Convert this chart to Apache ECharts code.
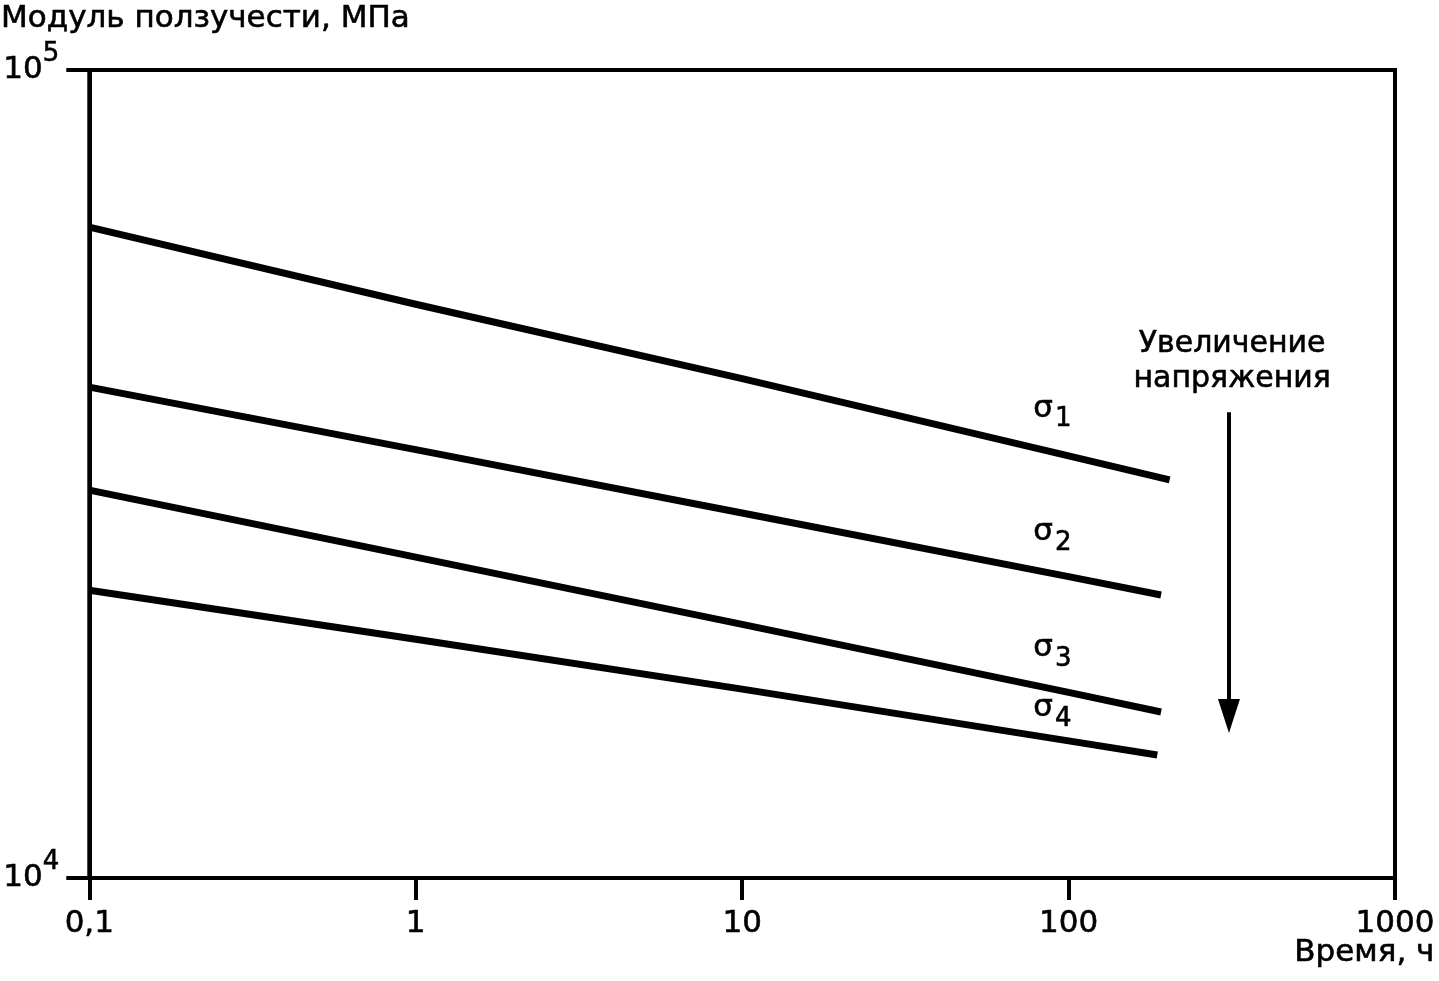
<!DOCTYPE html>
<html>
<head>
<meta charset="utf-8">
<script src="https://cdn.jsdelivr.net/npm/echarts@6/dist/echarts.min.js"></script>
<style>
html,body{margin:0;padding:0;background:#fff;}
#chart{width:1439px;height:981px;}
</style>
</head>
<body>
<div id="chart"></div>
<script>
// ---- data ----
const timeNodes = [0.1, 1, 10, 100];          // hours
const endTime = [204, 192, 192, 187];         // hours, where each curve ends
const sigma1 = [63900, 51300, 41500, 33300, 31100];   // MPa
const sigma2 = [40500, 33900, 28300, 23600, 22400];
const sigma3 = [30200, 24950, 20600, 16970, 16050];
const sigma4 = [22700, 19750, 17130, 14780, 14200];
const seriesNames = ['σ1', 'σ2', 'σ3', 'σ4'];
const seriesSubscripts = ['1', '2', '3', '4'];
const labelTime = 78;                          // where σ labels start (hours)
const labelModulus = [38100, 26800, 19260, 16230];
const arrowTime = 310;
const arrowFrom = 37700, arrowTo = 15870;
const noteText = 'Увеличение\nнапряжения';
const noteTime = 317, noteModulus = 43600;
const yTitle = 'Модуль ползучести, МПа';
const xTitle = 'Время, ч';

const FONT = 'DejaVu Sans';
const HEAVY = { textBorderColor: '#000', textBorderWidth: 0.6 };
const allSeries = [sigma1, sigma2, sigma3, sigma4];

function pairs(vals, i) {
  const xs = timeNodes.concat([endTime[i]]);
  return vals.map((v, k) => [xs[k], v]);
}

const series = allSeries.map((vals, i) => {
  const s = {
    name: seriesNames[i],
    type: 'line',
    data: pairs(vals, i),
    symbol: 'none',
    lineStyle: { color: '#000', width: 7, cap: 'butt', join: 'round' },
    silent: true,
    markPoint: {
      silent: true,
      symbol: 'circle',
      symbolSize: 0,
      data: [{ coord: [labelTime, labelModulus[i]] }],
      label: {
        show: true,
        position: 'inside',
        align: 'left',
        verticalAlign: 'middle',
        formatter: '{s|σ}{sub|' + seriesSubscripts[i] + '}',
        rich: {
          s: Object.assign({ fontFamily: FONT, fontSize: 31, lineHeight: 31, color: '#000' }, HEAVY),
          sub: Object.assign({ fontFamily: FONT, fontSize: 26, lineHeight: 26, color: '#000', padding: [22, 0, 0, 2] }, HEAVY)
        }
      }
    }
  };
  if (i === 0) {
    s.markLine = {
      silent: true,
      symbol: ['none', 'triangle'],
      symbolSize: [22, 34],
      label: { show: false },
      lineStyle: { color: '#000', width: 4, type: 'solid' },
      data: [[{ coord: [arrowTime, arrowFrom] }, { coord: [arrowTime, arrowTo] }]]
    };
    s.markPoint.data.push({
      coord: [noteTime, noteModulus],
      label: Object.assign({
        show: true, position: 'inside', align: 'center', verticalAlign: 'middle',
        formatter: noteText, fontFamily: FONT, fontSize: 30, lineHeight: 35, color: '#000'
      }, HEAVY)
    });
  }
  return s;
});

const chart = echarts.init(document.getElementById('chart'), null, { renderer: 'canvas' });
chart.setOption({
  animation: false,
  backgroundColor: '#fff',
  title: [
    { text: yTitle, left: 1, top: 3, padding: 0,
      textStyle: Object.assign({ fontFamily: FONT, fontSize: 31, fontWeight: 'normal', color: '#000' }, HEAVY) },
    { text: xTitle, right: 4, top: 937, padding: 0,
      textStyle: Object.assign({ fontFamily: FONT, fontSize: 31, fontWeight: 'normal', color: '#000' }, HEAVY) }
  ],
  grid: {
    left: 87, right: 44, top: 70, bottom: 103,
    show: true, borderColor: '#000', borderWidth: 4, backgroundColor: 'transparent'
  },
  xAxis: {
    type: 'log', logBase: 10, min: 0.1, max: 1000,
    axisLine: { show: true, lineStyle: { color: '#000', width: 4 } },
    axisTick: { show: true, length: 22, lineStyle: { color: '#000', width: 4 } },
    minorTick: { show: false },
    splitLine: { show: false },
    axisLabel: Object.assign({
      margin: 30, fontFamily: FONT, fontSize: 31, color: '#000',
      formatter: v => String(Number(v.toPrecision(6))).replace('.', ',')
    }, HEAVY)
  },
  yAxis: {
    type: 'log', logBase: 10, min: 10000, max: 100000,
    axisLine: { show: true, lineStyle: { color: '#000', width: 4 } },
    axisTick: { show: true, length: 23, lineStyle: { color: '#000', width: 4 } },
    splitLine: { show: false },
    axisLabel: {
      margin: 30,
      formatter: v => '{b|10}{sup|' + Math.round(Math.log10(v)) + '}',
      rich: {
        b: Object.assign({ fontFamily: FONT, fontSize: 31, lineHeight: 31, color: '#000' }, HEAVY),
        sup: Object.assign({ fontFamily: FONT, fontSize: 26, lineHeight: 26, color: '#000', padding: [0, 0, 32, 0] }, HEAVY)
      }
    }
  },
  series: series
});
</script>
</body>
</html>
